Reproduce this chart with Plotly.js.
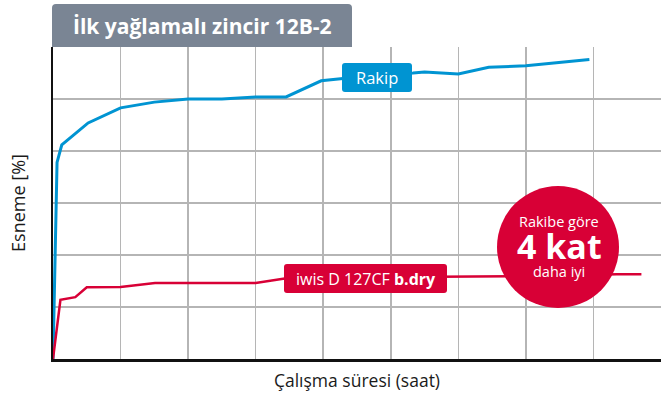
<!DOCTYPE html>
<html><head><meta charset="utf-8">
<script src="https://cdn.plot.ly/plotly-3.0.1.min.js"></script>
<style>html,body{margin:0;padding:0;background:#fff;}#chart{width:670px;height:403px;}</style>
</head><body><div id="chart"></div>
<script>
// Data (x in grid units of operating time, y in grid units of elongation)
const rakipX = [0, 0.06, 0.13, 0.52, 1.0, 1.5, 2.0, 2.5, 3.0, 3.45, 3.97, 4.3, 4.8, 5.33, 5.5, 6.0, 6.45, 7.0, 7.94];
const rakipY = [0, 3.78, 4.12, 4.54, 4.83, 4.94, 5.0, 5.0, 5.04, 5.04, 5.35, 5.39, 5.46, 5.5, 5.52, 5.48, 5.61, 5.64, 5.76];
const iwisX = [0, 0.11, 0.33, 0.5, 1.0, 1.51, 3.0, 3.43, 4.6, 5.84, 6.67, 7.5, 8.34, 8.71];
const iwisY = [0, 1.14, 1.19, 1.38, 1.385, 1.46, 1.46, 1.55, 1.57, 1.58, 1.58, 1.6, 1.63, 1.63];
const xTicks = [0, 1, 2, 3, 4, 5, 6, 7, 8, 9];
const yTicks = [0, 1, 2, 3, 4, 5, 6];

const chartTitle = 'İlk yağlamalı zincir 12B-2';
const xTitle = 'Çalışma süresi (saat)';
const yTitle = 'Esneme [%]';
const rakipLabel = 'Rakip';
const iwisLabel = 'iwis D 127CF <b>b.dry</b>';
const badgeLines = ['Rakibe göre', '4 kat', 'daha iyi'];

const BLUE = '#0094d2', RED = '#d80036', GRAY = '#7a8594';
const W = 670, H = 403, ML = 53, MR = 9, MT = 47, MB = 44;
const PW = W - ML - MR, PH = H - MT - MB;
const px = v => (v - ML) / PW;           // pixel x -> paper
const py = v => (H - MB - v) / PH;       // pixel y -> paper

function roundRect(x0, y0, x1, y1, r, topOnly) {
  const X0 = px(x0), X1 = px(x1), Y0 = py(y1), Y1 = py(y0);
  const rx = r / PW, ry = r / PH;
  if (topOnly) {
    return `M${X0},${Y0} L${X0},${Y1 - ry} Q${X0},${Y1} ${X0 + rx},${Y1} L${X1 - rx},${Y1} Q${X1},${Y1} ${X1},${Y1 - ry} L${X1},${Y0} Z`;
  }
  return `M${X0 + rx},${Y0} L${X1 - rx},${Y0} Q${X1},${Y0} ${X1},${Y0 + ry} L${X1},${Y1 - ry} Q${X1},${Y1} ${X1 - rx},${Y1} L${X0 + rx},${Y1} Q${X0},${Y1} ${X0},${Y1 - ry} L${X0},${Y0 + ry} Q${X0},${Y0} ${X0 + rx},${Y0} Z`;
}

const FONT = 'Open Sans, Noto Sans, sans-serif';

const traces = [
  {x: rakipX, y: rakipY, type: 'scatter', mode: 'lines', line: {color: BLUE, width: 3}, hoverinfo: 'skip'},
  {x: iwisX, y: iwisY, type: 'scatter', mode: 'lines', line: {color: RED, width: 2.5}, hoverinfo: 'skip'}
];

const layout = {
  width: W, height: H,
  margin: {l: ML, r: MR, t: MT, b: MB, pad: 0},
  paper_bgcolor: '#fff', plot_bgcolor: '#fff',
  showlegend: false,
  font: {family: FONT, color: '#1a1a1a'},
  xaxis: {
    range: [0, 9], tickvals: xTicks, showticklabels: false, ticks: '',
    showgrid: true, gridcolor: '#b5b5b5', gridwidth: 1.5,
    showline: true, linecolor: '#111', linewidth: 2.5, zeroline: false,
    fixedrange: true,
    title: {text: xTitle, font: {size: 17.5, family: FONT, color: '#1a1a1a'}, standoff: 14}
  },
  yaxis: {
    range: [0, 6], tickvals: yTicks, showticklabels: false, ticks: '',
    showgrid: true, gridcolor: '#b5b5b5', gridwidth: 1.5,
    showline: true, linecolor: '#111', linewidth: 2.5, zeroline: false,
    fixedrange: true,
    title: {text: yTitle, font: {size: 18, family: FONT, color: '#1a1a1a'}, standoff: 20}
  },
  shapes: [
    {type: 'path', xref: 'paper', yref: 'paper', path: roundRect(52, 4, 352, 47, 4, true),
     fillcolor: GRAY, line: {width: 0}, layer: 'above'},
    {type: 'path', xref: 'paper', yref: 'paper', path: roundRect(342, 63, 412, 92, 3, false),
     fillcolor: BLUE, line: {width: 0}, layer: 'above'},
    {type: 'path', xref: 'paper', yref: 'paper', path: roundRect(284, 264, 447, 293, 3, false),
     fillcolor: RED, line: {width: 0}, layer: 'above'},
    {type: 'circle', xref: 'paper', yref: 'paper', x0: px(497), x1: px(619), y0: py(308), y1: py(186),
     fillcolor: RED, line: {width: 0}, layer: 'above'}
  ],
  annotations: [
    {xref: 'paper', yref: 'paper', x: px(202), y: py(26), text: '<b>' + chartTitle + '</b>', showarrow: false,
     xanchor: 'center', yanchor: 'middle', font: {size: 21, color: '#fff', family: FONT}},
    {xref: 'paper', yref: 'paper', x: px(377), y: py(77.5), text: rakipLabel, showarrow: false,
     xanchor: 'center', yanchor: 'middle', font: {size: 16.5, color: '#fff', family: FONT}},
    {xref: 'paper', yref: 'paper', x: px(365.5), y: py(278.5), text: iwisLabel, showarrow: false,
     xanchor: 'center', yanchor: 'middle', font: {size: 16, color: '#fff', family: FONT}},
    {xref: 'paper', yref: 'paper', x: px(559), y: py(221), text: badgeLines[0], showarrow: false,
     xanchor: 'center', yanchor: 'middle', font: {size: 14.5, color: '#fff', family: FONT}},
    {xref: 'paper', yref: 'paper', x: px(559), y: py(246.5), text: '<b>' + badgeLines[1] + '</b>', showarrow: false,
     xanchor: 'center', yanchor: 'middle', font: {size: 34, color: '#fff', family: FONT}},
    {xref: 'paper', yref: 'paper', x: px(559), y: py(271.5), text: badgeLines[2], showarrow: false,
     xanchor: 'center', yanchor: 'middle', font: {size: 14.5, color: '#fff', family: FONT}}
  ]
};

Plotly.newPlot('chart', traces, layout, {displayModeBar: false, staticPlot: true});
</script>
</body></html>
